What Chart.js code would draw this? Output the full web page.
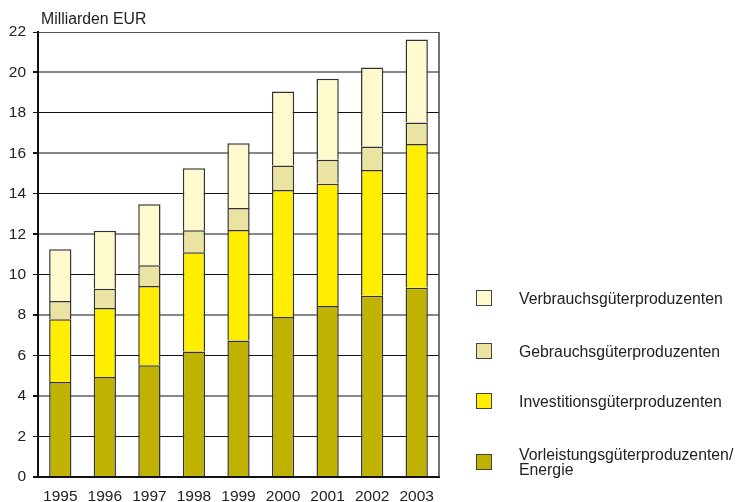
<!DOCTYPE html>
<html>
<head>
<meta charset="utf-8">
<script src="https://cdn.jsdelivr.net/npm/chart.js@4"></script>
<style>
    html, body { margin: 0; padding: 0; background: #fff; }
    #wrap { position: relative; width: 738px; height: 502px; }
    #chart { position: absolute; left: 0; top: 0; }
    .legend-item { position: absolute; left: 476px; display: flex; align-items: center;
        font-family: "Liberation Sans", Arial, sans-serif; font-size: 15.8px; color: #222; }
    .legend-box { width: 16px; height: 16px; box-sizing: border-box; border: 1.5px solid #444; }
    .legend-text { margin-left: 27px; line-height: 15px; white-space: pre; }
</style>
</head>
<body>
<div id="wrap">
    <canvas id="chart" width="738" height="502"></canvas>
    <div id="legend"></div>
</div>
<script>
// Data (Milliarden EUR)
const years = ['1995', '1996', '1997', '1998', '1999', '2000', '2001', '2002', '2003'];
const vorleistung = [4.70, 4.95, 5.53, 6.21, 6.75, 7.91, 8.45, 8.96, 9.36];
const investition = [3.10, 3.40, 3.91, 4.90, 5.46, 6.28, 6.05, 6.22, 7.10];
const gebrauch = [0.90, 0.96, 1.03, 1.09, 1.09, 1.21, 1.18, 1.16, 1.06];
const verbrauch = [2.56, 2.87, 3.02, 3.07, 3.20, 3.66, 4.01, 3.91, 4.11];
const seriesLabels = ['Vorleistungsgüterproduzenten/\nEnergie', 'Investitionsgüterproduzenten',
    'Gebrauchsgüterproduzenten', 'Verbrauchsgüterproduzenten'];
const yTicks = [0, 2, 4, 6, 8, 10, 12, 14, 16, 18, 20, 22];

const colors = ['#bfb200', '#ffee00', '#ebe3a1', '#fffacd'];
const fontFamily = '"Liberation Sans", Arial, sans-serif';

document.addEventListener('DOMContentLoaded', function() {
    const ctx = document.getElementById('chart').getContext('2d');
    const values = [vorleistung, investition, gebrauch, verbrauch];

    const frame = {
        id: 'frame',
        afterDraw(chart) {
            const a = chart.chartArea;
            const c = chart.ctx;
            c.save();
            // right border of the plot box
            c.strokeStyle = '#444';
            c.lineWidth = 1.5;
            c.beginPath();
            c.moveTo(a.right, a.top);
            c.lineTo(a.right, a.bottom);
            c.stroke();
            // unit label
            c.fillStyle = '#222';
            c.font = '15.8px ' + fontFamily;
            c.textBaseline = 'middle';
            c.fillText('Milliarden EUR', a.left + 3, a.top - 12);
            c.restore();
        }
    };

    const chart = new Chart(ctx, {
        type: 'bar',
        data: {
            labels: years,
            datasets: values.map(function(v, i) {
                return {
                    label: seriesLabels[i],
                    data: v,
                    backgroundColor: colors[i],
                    borderColor: '#333',
                    borderWidth: 1.5,
                    barPercentage: 0.5,
                    categoryPercentage: 1.0
                };
            })
        },
        options: {
            responsive: false,
            animation: false,
            layout: { padding: { left: 0, right: 299, top: 32, bottom: 0 } },
            plugins: {
                legend: { display: false },
                tooltip: { enabled: false }
            },
            scales: {
                x: {
                    stacked: true,
                    grid: { display: false },
                    border: { display: true, color: '#111', width: 2 },
                    ticks: { color: '#222', font: { family: fontFamily, size: 15.5 }, padding: 2, maxRotation: 0 },
                    afterFit: function(s) { s.height = 25; }
                },
                y: {
                    stacked: true,
                    min: 0,
                    max: 22,
                    afterBuildTicks: function(s) { s.ticks = yTicks.map(function(v) { return { value: v }; }); },
                    grid: {
                        color: function(c) {
                            const v = c.tick.value;
                            if (v === 22) return '#555';
                            return (v % 4 === 0) ? '#888' : '#111';
                        },
                        lineWidth: function(c) { return (c.tick.value % 4 === 0) ? 2 : 1; },
                        tickColor: '#111',
                        tickLength: 5
                    },
                    border: { display: true, color: '#111', width: 2 },
                    ticks: { color: '#222', font: { family: fontFamily, size: 15.5 }, padding: 7 },
                    afterFit: function(s) { s.width = 38; }
                }
            }
        },
        plugins: [frame]
    });

    // HTML legend, top item = top of the stack
    const legendTops = [290, 343, 393, 447];
    const legend = document.getElementById('legend');
    chart.data.datasets.slice().reverse().forEach(function(ds, i) {
        const item = document.createElement('div');
        item.className = 'legend-item';
        item.style.top = legendTops[i] + 'px';
        const box = document.createElement('div');
        box.className = 'legend-box';
        box.style.background = ds.backgroundColor;
        const text = document.createElement('div');
        text.className = 'legend-text';
        text.textContent = ds.label;
        item.appendChild(box);
        item.appendChild(text);
        legend.appendChild(item);
    });
});
</script>
</body>
</html>
